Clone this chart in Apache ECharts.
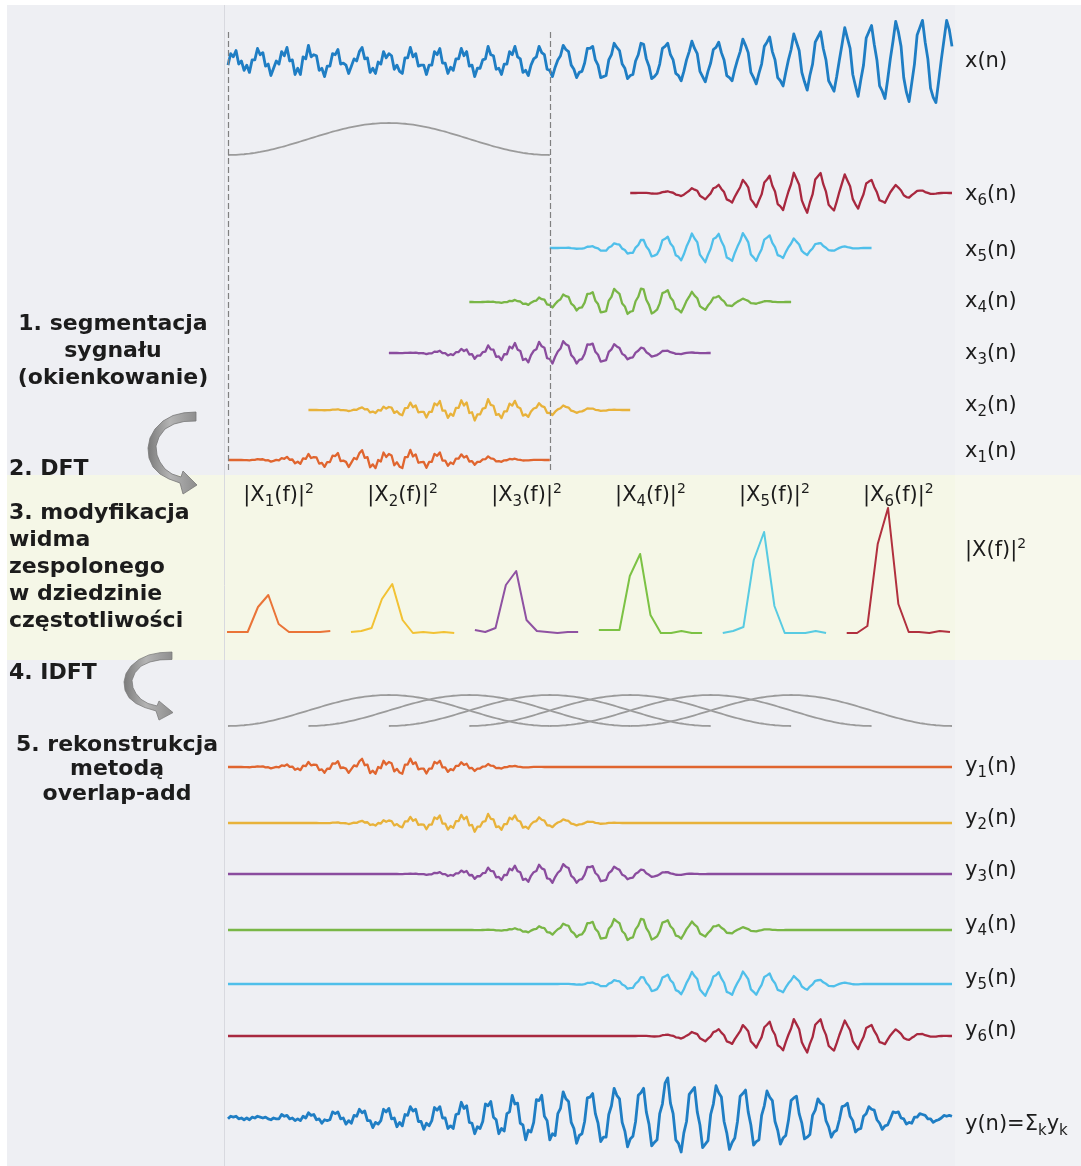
<!DOCTYPE html>
<html lang="pl">
<head>
<meta charset="utf-8">
<title>Overlap-add</title>
<script src="https://cdn.jsdelivr.net/npm/echarts@6.0.0/dist/echarts.min.js"></script>
<style>
html,body{margin:0;padding:0;background:#ffffff;}
#chart{width:1081px;height:1166px;}
</style>
</head>
<body>
<div id="chart"></div>
<script>
// ---------- data ----------
// input signal x(n) (271 samples, pixel-like amplitude units, up = positive)
const signalX = [
 -3, 8, 5, 11, -2, 1, -8, -3, -10,
 2, 2, 13, 7, 9, -4, -2, -13, -6, 1,
 -2, 10, 6, 14, 1, 2, -12, -6, -12,
 5, 3, 16, 5, 7, 6, -8, -6, -14, -4,
 -4, 8, 7, 12, -2, -1, -3, -11, -4,
 3, 1, 10, 14, 3, 4, -10, -6, -11, 0,
 -2, 10, 4, 8, 6, -7, -3, -9, -11,
 4, 4, 14, 5, 8, -4, -3, -3, -12, -3,
 -3, 10, 7, 13, -1, -1, -11, -5, -8,
 3, 3, 13, 6, 10, -4, -3, -14, -6, -6,
 2, 3, 15, 7, 6, -7, -6, -12, -2,
 -2, 10, 7, 15, 5, 3, -10, -8, -13, -3,
 3, 5, 15, 9, 7, -7, -8, -14, -5,
 2, 6, 16, 12, 10, -3, -7, -15, -10, -9,
 -1, 13, 13, 15, 2, -3, -15, -14, -13,
 2, 7, 18, 14, 11, -2, -6, -16, -13, -12,
 1, 7, 18, 17, 3, -4, -16, -14, -11,
 -2, 13, 15, 18, 7, 2, -11, -13, -18, -9,
 2, 10, 20, 13, 8, -9, -14, -19, -9,
 -1, 12, 14, 19, 9, 2, -13, -15, -18, -7,
 2, 10, 22, 16, 9, -10, -15, -21, -11,
 -2, 15, 19, 24, 10, 2, -15, -18, -23, -10,
 2, 12, 27, 19, 11, -10, -19, -27, -13,
 -2, 19, 24, 29, 13, 2, -18, -23, -28, -14,
 2, 17, 33, 23, 13, -12, -23, -33, -17,
 -3, 23, 29, 35, 17, 2, -23, -28, -35, -17,
 3, 20, 39, 29, 15, -15, -29, -38, -20,
 -2, 26, 33, 40, 19, 3, -25, -34, -39, -19,
 2, 21, 40, 31, 15
];
// reconstructed output y(n) (271 samples)
const signalY = [
 -1, 2, 1, 2, -1, 0, -2, 0, -2,
 1, 0, 2, 1, 0, 1, -1, -2, 0, -1,
 -1, 4, 2, 3, -1, 0, -3, -1, -3,
 2, 0, 6, 3, 4, -2, -1, -6, -2, -3,
 -2, 7, 5, 7, -1, 0, -7, -3, -6,
 3, 2, 10, 6, 8, -3, -3, -11, -5, -7,
 -3, 10, 7, 11, -1, 0, -10, -5, -9,
 4, 3, 13, 8, 10, -4, -4, -13, -6, -9,
 -3, 12, 9, 13, 0, 0, -12, -9, -12,
 4, 5, 18, 11, 14, -5, -6, -18, -10, -12,
 -4, 16, 14, 19, 1, -2, -18, -12, -15,
 5, 7, 26, 16, 17, -6, -8, -25, -14, -16,
 -5, 21, 20, 26, 2, -3, -25, -18, -20,
 5, 11, 30, 22, 19, -5, -12, -29, -20, -18,
 -4, 23, 24, 28, 5, -6, -27, -22, -22,
 4, 14, 34, 26, 22, -5, -15, -33, -24, -21,
 -4, 26, 29, 34, 7, -7, -32, -28, -25,
 5, 16, 40, 46, 17, 5, -25, -29, -39, -17,
 -4, 27, 31, 35, 7, -8, -34, -30, -26,
 4, 16, 37, 29, 24, -4, -17, -36, -28, -23,
 -4, 25, 28, 32, 7, -8, -31, -27, -25,
 3, 14, 31, 24, 20, -4, -14, -30, -23, -20,
 -3, 20, 23, 25, 5, -6, -24, -22, -19,
 3, 9, 22, 17, 15, -3, -10, -22, -16, -14,
 -2, 13, 14, 17, 2, -3, -16, -13, -12,
 2, 5, 13, 10, 9, -2, -6, -13, -9, -8,
 -1, 7, 6, 7, 0, -1, -7, -5, -6,
 1, 1, 5, 4, 3, -1, -1, -5, -3, -2,
 0, 3, 2, 3, 2
];
// analysis window (gray arch), 121 samples
const hannWindow = [
 0, .001, .003, .006, .011, .017, .024, .033, .043, .055,
 .067, .081, .095, .111, .128, .146, .165, .185, .206, .228,
 .25, .273, .297, .321, .345, .371, .396, .422, .448, .474,
 .5, .526, .552, .578, .604, .629, .655, .679, .703, .727,
 .75, .772, .794, .815, .835, .854, .872, .889, .905, .919,
 .933, .946, .957, .967, .976, .983, .989, .994, .997, .999,
 1,
 .999, .997, .994, .989, .983, .976, .967, .957, .946, .933,
 .919, .905, .889, .872, .854, .835, .815, .794, .772, .75,
 .727, .703, .679, .655, .629, .604, .578, .552, .526, .5,
 .474, .448, .422, .396, .371, .345, .321, .297, .273, .25,
 .228, .206, .185, .165, .146, .128, .111, .095, .081, .067,
 .055, .043, .033, .024, .017, .011, .006, .003, .001, 0
];
const hopSamples = 30;
const segmentSamples = 120;
const segmentIds = ['1', '2', '3', '4', '5', '6'];
// power spectra |Xk(f)|^2 (11 bins each)
const spectrum1 = [0, 0, 0, 25, 37, 8, 0, 0, 0, 0, 1];
const spectrum2 = [0, 1, 4, 33, 48, 12, -1, 0, -1, 0, -1];
const spectrum3 = [2, 0, 4, 47, 61, 12, 1, 0, -1, 0, 0];
const spectrum4 = [2, 2, 2, 56, 78, 17, -1, -1, 1, -1, -1];
const spectrum5 = [-1, 1, 5, 72, 100, 26, -1, -1, -1, 1, -1];
const spectrum6 = [-1, -1, 6, 88, 124, 28, 0, 0, -1, 1, 0];
const spectra = [spectrum1, spectrum2, spectrum3, spectrum4, spectrum5, spectrum6];
const binGap = 12;

// ---------- styles ----------
const segColors = ['#e0652f', '#e8b23a', '#8a4c9e', '#79b646', '#4fbfea', '#a8283f'];
const specColors = ['#ea7438', '#f2c234', '#8f52a2', '#7cc244', '#58cbe2', '#b1303e'];
const blue = '#1f7ec4';
const gray = '#9b9b9b';
const TXT = '#1c1c1c';
const FONT = 'DejaVu Sans';

// ---------- derived series ----------
const nMax = signalX.length - 1;
const xData = signalX.map((v, n) => [n, v]);
const yData = signalY.map((v, n) => [n, v]);
const xSegs = segmentIds.map((_, k) => {
  const s = k * hopSamples;
  return hannWindow.map((w, i) => [s + i, +(w * signalX[s + i]).toFixed(2)]);
});
const ySegs = segmentIds.map((_, k) => {
  const s = k * hopSamples;
  return signalX.map((v, n) => [n, (n >= s && n <= s + segmentSamples) ? +(hannWindow[n - s] * v).toFixed(2) : 0]);
});
const winData = k => hannWindow.map((w, i) => [k * hopSamples + i, w]);

// ---------- layout ----------
const plotLeft = 228, plotWidth = 724;
const specLeft = 227, specWidth = 723;
const grids = [], xAxes = [], yAxes = [], series = [];
function addGrid(top, height, ymin, ymax, xmax, left, width) {
  const i = grids.length;
  grids.push({left: left, top: top, width: width, height: height, containLabel: false, show: false});
  xAxes.push({gridIndex: i, type: 'value', min: 0, max: xmax, show: false});
  yAxes.push({gridIndex: i, type: 'value', min: ymin, max: ymax, show: false});
  return i;
}
function addLine(gi, data, color, width, z) {
  series.push({type: 'line', xAxisIndex: gi, yAxisIndex: gi, data: data, symbol: 'none', showSymbol: false,
    silent: true, animation: false, clip: false, z: z || 3,
    lineStyle: {color: color, width: width, join: 'round'}});
}

// x(n)
const gX = addGrid(12, 100, -48, 48, nMax, plotLeft, plotWidth);
addLine(gX, xData, blue, 2.8);
// first window
const gW = addGrid(123, 32, 0, 1, nMax, plotLeft, plotWidth);
addLine(gW, winData(0), gray, 1.8);
// segments x1..x6
const segCenters = [460, 410, 353, 302, 248, 193];
const segScale = 40;
segCenters.forEach((c, k) => {
  const gi = addGrid(c - 30, 60, -segScale, segScale, nMax, plotLeft, plotWidth);
  addLine(gi, xSegs[k], segColors[k], 2.3);
});
// spectra
const specMax = binGap * (spectra.length - 1) + spectrum1.length - 1;
const gS = addGrid(492, 150, -10, 140, specMax, specLeft, specWidth);
spectra.forEach((arr, k) => {
  addLine(gS, arr.map((v, i) => [binGap * k + i, v]), specColors[k], 2);
});
// overlapping windows
const gWs = addGrid(695, 31, 0, 1, nMax, plotLeft, plotWidth);
segmentIds.forEach((_, k) => addLine(gWs, winData(k), gray, 1.8));
// y1..y6
const yCenters = [767, 823, 874, 930, 984, 1036];
yCenters.forEach((c, k) => {
  const gi = addGrid(c - 25, 50, -segScale, segScale, nMax, plotLeft, plotWidth);
  addLine(gi, ySegs[k], segColors[k], 2.3);
});
// y(n)
const gY = addGrid(1070, 110, -55, 55, nMax, plotLeft, plotWidth);
addLine(gY, yData, blue, 2.8);
// dashed segment boundaries
const gD = addGrid(30, 440, 0, 1, nMax, plotLeft, plotWidth);
series.push({type: 'line', xAxisIndex: gD, yAxisIndex: gD, data: [[0, 0.5], [segmentSamples, 0.5]],
  symbol: 'none', silent: true, animation: false, lineStyle: {opacity: 0},
  markLine: {silent: true, symbol: ['none', 'none'], animation: false, label: {show: false},
    lineStyle: {color: '#808080', type: [6, 3], width: 1.2},
    data: [{xAxis: 0}, {xAxis: segmentSamples}]}});

// ---------- texts ----------
const richStyles = {
  m: {fontFamily: FONT, fontSize: 21, lineHeight: 28, fill: TXT},
  s: {fontFamily: FONT, fontSize: 15, lineHeight: 16, verticalAlign: 'bottom', fill: TXT},
  p: {fontFamily: FONT, fontSize: 14, lineHeight: 16, verticalAlign: 'top', fill: TXT}
};
function richText(x, y, text, align) {
  const a = align || 'left';
  return {type: 'text', x: x, y: y, z: 100, silent: true,
    style: {text: text, rich: richStyles, fill: TXT, fontFamily: FONT, fontSize: 21,
      align: a, textAlign: a, verticalAlign: 'middle', textVerticalAlign: 'middle'}};
}
function boldText(x, y, text, align) {
  const a = align || 'left';
  return {type: 'text', x: x, y: y, z: 100, silent: true,
    style: {text: text, fill: TXT, fontFamily: FONT, fontSize: 22, fontWeight: 'bold',
      align: a, textAlign: a, verticalAlign: 'middle', textVerticalAlign: 'middle'}};
}
const graphics = [];
// backgrounds
graphics.push({type: 'rect', x: 7, y: 5, z: 0, silent: true, shape: {width: 1074, height: 1161}, style: {fill: '#eeeff3'}});
graphics.push({type: 'rect', x: 7, y: 475, z: 0, silent: true, shape: {width: 1074, height: 185}, style: {fill: '#f5f7e7'}});
graphics.push({type: 'rect', x: 955, y: 5, z: 0, silent: true, shape: {width: 126, height: 1161}, style: {fill: 'rgba(255,255,255,0.22)'}});
graphics.push({type: 'line', z: 1, silent: true, shape: {x1: 224.5, y1: 5, x2: 224.5, y2: 1166}, style: {stroke: '#d8d9df', lineWidth: 1}});
// right labels
graphics.push(richText(965, 62, '{m|x(n)}'));
const segLabelY = [452, 406, 354, 302, 251, 195];
segLabelY.forEach((y, k) => graphics.push(richText(965, y, '{m|x}{s|' + segmentIds[k] + '}{m|(n)}')));
graphics.push(richText(965, 551, '{m||X(f)|}{p|2}'));
const step = specWidth / specMax;
spectra.forEach((_, k) => {
  const cx = specLeft + (binGap * k + 5) * step;
  graphics.push(richText(cx, 496, '{m||X}{s|' + segmentIds[k] + '}{m|(f)|}{p|2}', 'center'));
});
const yLabelY = [767, 819, 871, 925, 979, 1031];
yLabelY.forEach((y, k) => graphics.push(richText(965, y, '{m|y}{s|' + segmentIds[k] + '}{m|(n)}')));
graphics.push(richText(965, 1125, '{m|y(n)=Σ}{s|k}{m|y}{s|k}'));
// left descriptions
graphics.push(boldText(113, 324, '1. segmentacja', 'center'));
graphics.push(boldText(113, 351, 'sygnału', 'center'));
graphics.push(boldText(113, 378, '(okienkowanie)', 'center'));
graphics.push(boldText(9, 469, '2. DFT'));
['3. modyfikacja', 'widma', 'zespolonego', 'w dziedzinie', 'częstotliwości'].forEach((t, i) =>
  graphics.push(boldText(9, 513 + 27 * i, t)));
graphics.push(boldText(9, 673, '4. IDFT'));
graphics.push(boldText(117, 745, '5. rekonstrukcja', 'center'));
graphics.push(boldText(117, 769, 'metodą', 'center'));
graphics.push(boldText(117, 794, 'overlap-add', 'center'));
// curved arrows (decorative polygons)
const arrowPoints = [
  [0, 0], [-12, 0.8], [-23, 3.5], [-33, 9], [-41, 17], [-46, 26], [-48, 36], [-47, 46], [-43, 55],
  [-36, 62], [-27, 67], [-16, 71], [-13, 82], [1, 73], [-13, 59], [-15, 65],
  [-24, 62], [-31, 57], [-36, 50], [-39, 43], [-40, 34], [-37, 25], [-31, 17], [-22, 12], [-12, 9.5], [0, 9]
];
const arrowFill = {type: 'linear', x: 0, y: 0, x2: 1, y2: 0, global: false,
  colorStops: [{offset: 0, color: '#7a7a7a'}, {offset: 0.45, color: '#b4b4b4'}, {offset: 1, color: '#8c8c8c'}]};
graphics.push({type: 'polygon', x: 196, y: 412, z: 90, silent: true, shape: {points: arrowPoints},
  style: {fill: arrowFill, stroke: '#777777', lineWidth: 0.8}});
graphics.push({type: 'polygon', x: 172, y: 652, scaleY: 0.83, z: 90, silent: true, shape: {points: arrowPoints},
  style: {fill: arrowFill, stroke: '#777777', lineWidth: 0.8}});

const chart = echarts.init(document.getElementById('chart'), null, {renderer: 'canvas'});
chart.setOption({
  animation: false,
  backgroundColor: '#ffffff',
  grid: grids,
  xAxis: xAxes,
  yAxis: yAxes,
  series: series,
  graphic: {elements: graphics}
});
</script>
</body>
</html>
